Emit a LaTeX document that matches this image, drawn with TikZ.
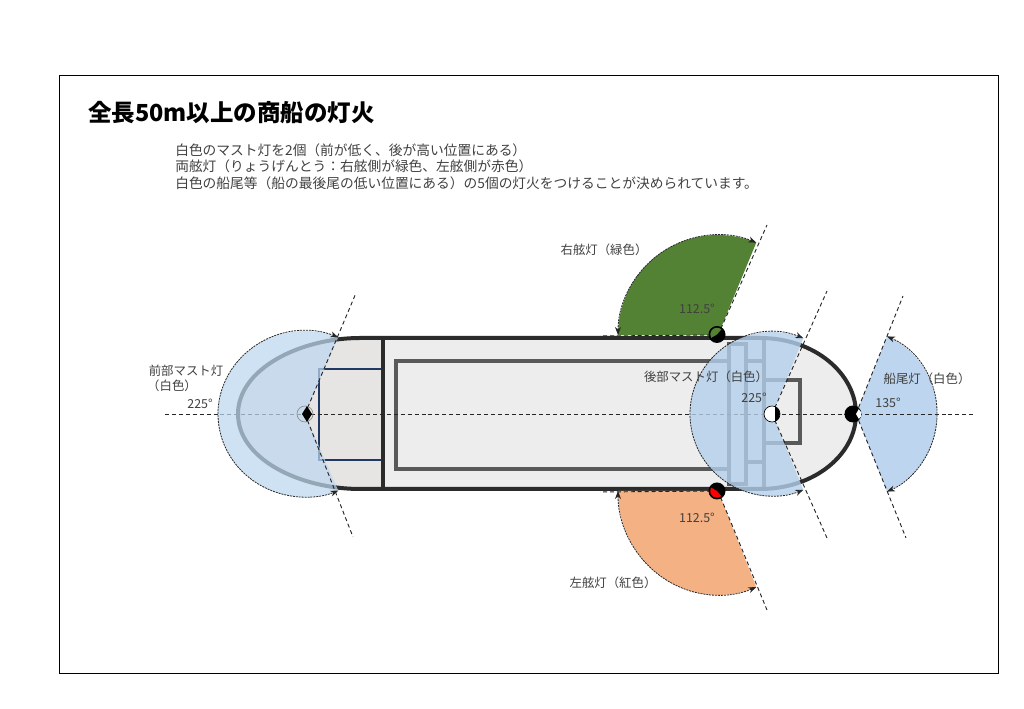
\documentclass[tikz,border=0pt]{standalone}
\usepackage{fontspec}
\setmainfont{Noto Sans CJK JP}
\usetikzlibrary{arrows.meta}

\definecolor{hullline}{HTML}{2B2B2B}
\definecolor{deckline}{HTML}{595959}
\definecolor{navyline}{HTML}{1F3864}
\definecolor{forepart}{HTML}{E7E4E4}
\definecolor{aftblue}{HTML}{B4CFEC}
\definecolor{foreblue}{HTML}{BDD7EE}
\definecolor{sternblue}{HTML}{BDD5EE}
\definecolor{stbdgreen}{HTML}{548235}
\definecolor{portorange}{HTML}{F4B183}

\tikzset{
  hull/.style={draw=hullline,line width=3pt},
  deck/.style={draw=deckline,line width=2.6pt},
  ray/.style={draw=black!85,line width=.7pt,dash pattern=on 3pt off 2.2pt},
  sweep/.style={draw=black!85,line width=.6pt,dash pattern=on 1.5pt off .7pt,{Stealth[length=6pt,width=4.5pt]}-{Stealth[length=6pt,width=4.5pt]}},
  note/.style={text=black!75,font=\fontsize{9.3}{11}\selectfont,inner sep=0pt},
  para/.style={text=black!75,font=\fontsize{10.3}{12}\selectfont,inner sep=0pt,anchor=west}
}

\begin{document}
\begin{tikzpicture}[x=.75pt,y=.75pt]
  \useasboundingbox (0,0) rectangle (1024,709);
  \node[draw=black,line width=.6pt,minimum width=704.25pt,minimum height=448.5pt,inner sep=0pt] (frame) at (528.5,335) {};

  % heading
  \node[inner sep=0pt,anchor=west,font=\fontsize{17.6}{22}\selectfont\bfseries] (title) at (88,596) {全長50m以上の商船の灯火};
  \node[para] (lineA) at (175,559) {白色のマスト灯を2個（前が低く、後が高い位置にある）};
  \node[para] (lineB) at (175,543) {両舷灯（りょうげんとう：右舷側が緑色、左舷側が赤色）};
  \node[para] (lineC) at (175,526) {白色の船尾等（船の最後尾の低い位置にある）の5個の灯火をつけることが決められています。};

  \coordinate (lgtF) at (305,295);
  \coordinate (lgtA) at (772,295);
  \coordinate (lgtS) at (856,295);
  \coordinate (lgtG) at (718,374);
  \coordinate (lgtP) at (718,218);

  % hull
  \path[fill=black!7] (383,371) -- (760,371) .. controls (815,371) and (856,335) .. (856,295)
    .. controls (856,255) and (815,220) .. (760,220) -- (383,220) -- cycle;
  \path[fill=forepart] (383,371) -- (360,371) .. controls (300,371) and (238,340) .. (238,295)
    .. controls (238,250) and (300,220) .. (360,220) -- (383,220) -- cycle;
  \draw[navyline,line width=2.2pt] (319,340) rectangle (383,249);
  \draw[deck] (729,348) -- (396,348) -- (396,240) -- (729,240);
  \draw[deck] (729,365) rectangle (746,225);
  \draw[deck] (764,371) -- (764,220);
  \draw[deck] (746,348) -- (764,348) (746,247) -- (764,247);
  \draw[deck] (764,329) -- (800,329) -- (800,266) -- (764,266);
  \draw[hull] (383,220) -- (360,220) .. controls (300,220) and (238,250) .. (238,295)
    .. controls (238,340) and (300,371) .. (360,371) -- (760,371)
    .. controls (815,371) and (856,335) .. (856,295)
    .. controls (856,255) and (815,220) .. (760,220) -- cycle;
  \draw[hull] (383,371) -- (383,220);

  % sectors
  \fill[stbdgreen] (lgtG) -- +(180:100) arc (180:67.5:100) -- cycle;
  \fill[portorange] (lgtP) -- +(180:100) arc (180:292.5:100 and 104) -- cycle;
  \fill[sternblue] (lgtS) -- +(67.5:81 and 84) arc (67.5:-67.5:81 and 84) -- cycle;

  \coordinate (keelW) at (165,295);
  \coordinate (keelE) at (975,295);
  \draw[ray] (keelW) -- (keelE);

  \fill[foreblue,opacity=.72] (lgtF) -- +(67.5:87 and 83) arc (67.5:292.5:87 and 83) -- cycle;
  \fill[aftblue,opacity=.8] (lgtA) -- +(67.5:82) arc (67.5:292.5:82) -- cycle;

  \coordinate (rayFa) at (356,416);
  \coordinate (rayFb) at (353,172);
  \coordinate (rayAa) at (827,418);
  \coordinate (rayAb) at (827,171);
  \coordinate (raySa) at (903,413);
  \coordinate (raySb) at (906,171);
  \coordinate (rayGa) at (767,484);
  \coordinate (rayGb) at (600,373);
  \coordinate (rayPa) at (767,99);
  \coordinate (rayPb) at (600,217);
  \foreach \c/\e in {lgtF/rayFa,lgtF/rayFb,lgtA/rayAa,lgtA/rayAb,lgtS/raySa,lgtS/raySb,lgtG/rayGa,lgtG/rayGb,lgtP/rayPa,lgtP/rayPb}
    \draw[ray] (\c) -- (\e);

  \draw[sweep,shift={(lgtF)}] (67.5:87 and 83) arc (67.5:292.5:87 and 83);
  \draw[sweep,shift={(lgtA)}] (67.5:82) arc (67.5:292.5:82);
  \draw[sweep,shift={(lgtS)}] (67.5:81 and 84) arc (67.5:-67.5:81 and 84);
  \draw[sweep,shift={(lgtG)}] (67.5:100) arc (67.5:180:100);
  \draw[sweep,shift={(lgtP)}] (180:100) arc (180:292.5:100 and 104);

  % lights
  \draw[black!45,line width=.5pt] (lgtF) circle (8);
  \fill[black] (302,295) -- (307,303) -- (312,295) -- (307,287) -- cycle;
  \filldraw[fill=white,draw=black,line width=.5pt] (lgtA) circle (8);
  \fill[black] (775,295) -- (775,302.4) arc (67.5:-67.5:8) -- cycle;
  \fill[black] (853,295) circle (8.5);
  \fill[white] (856,295) -- +(60:5.5) arc (60:-60:5.5) -- cycle;
  \fill[black] (717,374.5) circle (8.5);
  \fill[stbdgreen] (717,374.5) -- +(50:6.8) arc (50:210:6.8) -- cycle;
  \fill[black] (717,218) circle (8.5);
  \fill[red] (717,218) -- +(150:6.8) arc (150:310:6.8) -- cycle;

  % labels
  \node[note] (lblG) at (604,459) {右舷灯（緑色）};
  \node[note] (lblP) at (613,126) {左舷灯（紅色）};
  \node[note] (lblF) at (186,338) {前部マスト灯};
  \node[note] (lblFb) at (172,323) {（白色）};
  \node[note] (lblA) at (706,332) {後部マスト灯（白色）};
  \node[note] (lblS) at (927,330) {船尾灯（白色）};
  \node[note] (angF) at (200,305) {225°};
  \node[note] (angA) at (754,311) {225°};
  \node[note] (angS) at (888,306) {135°};
  \node[note] (angG) at (697,400) {112.5°};
  \node[note] (angP) at (697,191) {112.5°};
\end{tikzpicture}
\end{document}
